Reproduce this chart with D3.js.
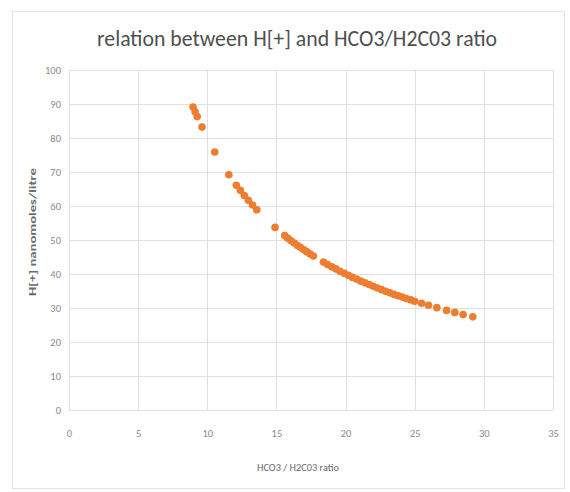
<!DOCTYPE html>
<html><head><meta charset="utf-8">
<script src="https://cdn.jsdelivr.net/npm/d3@7"></script>
<style>body{margin:0;background:#fff;} svg{display:block;}</style>
</head><body>
<script>
const ratio = [8.97, 9.12, 9.27, 9.62, 10.54, 11.56, 12.10, 12.39, 12.68, 12.97, 13.27, 13.58, 14.90,
  15.60, 15.83, 16.06, 16.29, 16.52, 16.75, 16.98, 17.21, 17.44, 17.67,
  18.40, 18.70, 19.00, 19.30, 19.60, 19.90, 20.20, 20.50, 20.80, 21.10, 21.40, 21.70,
  22.00, 22.30, 22.60, 22.90, 23.20, 23.50, 23.80, 24.10, 24.40, 24.70,
  25.00, 25.50, 26.00, 26.60, 27.30, 27.90, 28.50, 29.20];
const hplus = [89.1, 87.7, 86.3, 83.2, 75.9, 69.2, 66.1, 64.6, 63.1, 61.7, 60.3, 58.9, 53.7,
  51.3, 50.5, 49.8, 49.1, 48.4, 47.8, 47.1, 46.5, 45.9, 45.3,
  43.5, 42.8, 42.1, 41.5, 40.8, 40.2, 39.6, 39.0, 38.5, 37.9, 37.4, 36.9,
  36.4, 35.9, 35.4, 34.9, 34.5, 34.0, 33.6, 33.2, 32.8, 32.4,
  32.0, 31.4, 30.8, 30.1, 29.3, 28.7, 28.1, 27.4];
const xTicks = [0, 5, 10, 15, 20, 25, 30, 35];
const yTicks = [0, 10, 20, 30, 40, 50, 60, 70, 80, 90, 100];
const title = "relation between H[+] and HCO3/H2C03 ratio";
const xTitle = "HCO3 / H2C03 ratio";
const yTitle = "H[+] nanomoles/litre";

const W = 570, H = 492;
const svg = d3.select("body").append("svg").attr("width", W).attr("height", H);
svg.append("rect").attr("x", 12.5).attr("y", 11.5).attr("width", 552).attr("height", 477)
  .attr("fill", "#fff").attr("stroke", "#e3e3e3");

const x = d3.scaleLinear().domain([0, 35]).range([69, 553]);
const y = d3.scaleLinear().domain([0, 100]).range([410, 70]);

const font = "Calibri, Carlito, 'Open Sans', 'Noto Sans', sans-serif";

// gridlines
svg.append("g").selectAll("line").data(yTicks).join("line")
  .attr("x1", x(0)).attr("x2", x(35)).attr("y1", d => Math.round(y(d)) + 0.5).attr("y2", d => Math.round(y(d)) + 0.5)
  .attr("stroke", "#e0e0e0");
svg.append("g").selectAll("line").data(xTicks).join("line")
  .attr("y1", y(0)).attr("y2", y(100)).attr("x1", d => Math.round(x(d)) + 0.5).attr("x2", d => Math.round(x(d)) + 0.5)
  .attr("stroke", "#e0e0e0");

// axes via d3
const xAxis = d3.axisBottom(x).tickValues(xTicks).tickSize(0).tickPadding(20);
const gx = svg.append("g").attr("transform", `translate(0,${y(0)})`).call(xAxis);
gx.select(".domain").remove();
gx.selectAll("text").attr("fill", "#8a8a8a").attr("font-size", 10.5).attr("font-family", font);

const yAxis = d3.axisLeft(y).tickValues(yTicks).tickSize(0).tickPadding(8);
const gy = svg.append("g").attr("transform", `translate(${x(0)},0)`).call(yAxis);
gy.select(".domain").remove();
gy.selectAll("text").attr("fill", "#8a8a8a").attr("font-size", 10.5).attr("font-family", font);

// title
svg.append("text").attr("x", 297).attr("y", 46).attr("text-anchor", "middle")
  .attr("font-family", font).attr("font-size", 22).attr("fill", "#4f4f4f")
  .attr("textLength", 400).attr("lengthAdjust", "spacingAndGlyphs").text(title);

// axis titles
svg.append("text").attr("x", 298).attr("y", 471).attr("text-anchor", "middle")
  .attr("font-family", font).attr("font-size", 10.5).attr("fill", "#6a6a6a")
  .attr("textLength", 82).attr("lengthAdjust", "spacingAndGlyphs").text(xTitle);
svg.append("text").attr("transform", "translate(36,232) rotate(-90)").attr("text-anchor", "middle")
  .attr("font-family", font).attr("font-size", 10).attr("font-weight", "bold").attr("fill", "#6a6a6a")
  .attr("textLength", 128).attr("lengthAdjust", "spacingAndGlyphs").text(yTitle);

// points
const pts = ratio.map((r, i) => ({r, h: hplus[i]}));
svg.append("g").selectAll("circle").data(pts).join("circle")
  .attr("cx", d => x(d.r)).attr("cy", d => y(d.h)).attr("r", 3.8)
  .attr("fill", "#ED7D31");
</script>
</body></html>
